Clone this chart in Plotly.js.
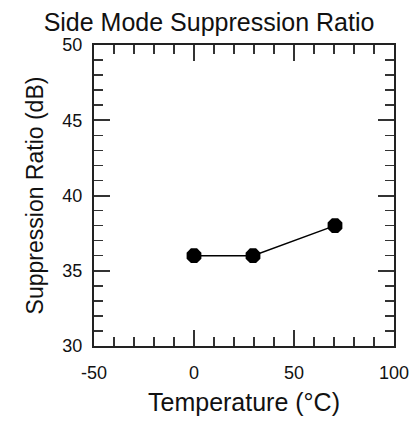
<!DOCTYPE html>
<html><head><meta charset="utf-8">
<script src="https://cdn.plot.ly/plotly-3.0.1.min.js"></script>
<style>html,body{margin:0;padding:0;background:#fff}</style>
</head><body>
<div id="chart" style="width:418px;height:421px"></div>
<script>
const temperature = [0, 29.5, 70.5];
const suppressionRatio = [36, 36, 38];
const xTickVals = [-50, 0, 50, 100];
const xTickText = ["-50", "0", "50", "100"];
const yTickVals = [30, 35, 40, 45, 50];
const yTickText = ["30", "35", "40", "45", "50"];
const titleText = "Side Mode Suppression Ratio";
const xTitle = "Temperature (°C)";
const yTitle = "Suppression Ratio (dB)";

const FONT = 'Liberation Sans, Arial, sans-serif';
const axisCommon = {
  showgrid: false, zeroline: false, showline: true, linecolor: '#222', linewidth: 2,
  mirror: 'allticks', ticks: 'inside', ticklen: 16, tickwidth: 2, tickcolor: '#333',
  tickfont: {family: FONT, size: 18, color: '#111'},
};
const layout = {
  width: 418, height: 421,
  margin: {l: 94, r: 24, t: 45, b: 75},
  paper_bgcolor: '#fff', plot_bgcolor: '#fff',
  showlegend: false,
  title: {text: titleText, x: 0.5, xanchor: 'center', y: 0.948, yanchor: 'middle',
          font: {family: FONT, size: 25, color: '#111'}},
  xaxis: Object.assign({}, axisCommon, {
    range: [-50, 100], tickvals: xTickVals, ticktext: xTickText, ticklabelstandoff: 9,
    minor: {dtick: 10, tick0: 0, ticklen: 9, tickwidth: 1.5, tickcolor: '#333', ticks: 'inside'},
    title: {text: xTitle, standoff: 12, font: {family: FONT, size: 25, color: '#111'}}
  }),
  yaxis: Object.assign({}, axisCommon, {
    range: [30, 50], tickvals: yTickVals, ticktext: yTickText, ticklabelstandoff: 6,
    minor: {dtick: 1, tick0: 0, ticklen: 9, tickwidth: 1.5, tickcolor: '#333', ticks: 'inside'},
    title: {text: yTitle, standoff: 12, font: {family: FONT, size: 23, color: '#111'}}
  })
};
const data = [{
  x: temperature, y: suppressionRatio, type: 'scatter', mode: 'lines+markers',
  line: {color: '#000', width: 1.5},
  marker: {symbol: 'octagon', size: 16, color: '#000'},
  cliponaxis: false
}];
Plotly.newPlot('chart', data, layout, {staticPlot: true, displayModeBar: false});
</script>
</body></html>
